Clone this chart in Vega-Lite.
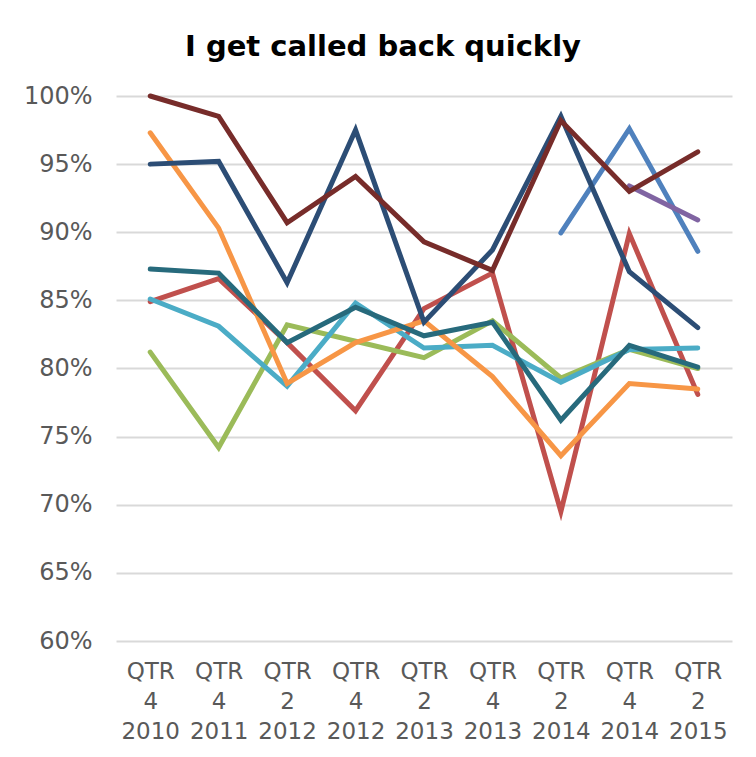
{
  "$schema": "https://vega.github.io/schema/vega-lite/v6.json",
  "width": 616,
  "height": 545,
  "autosize": {"type": "none"},
  "padding": {"left": 116, "top": 96, "right": 24, "bottom": 116},
  "background": "white",
  "title": {
    "text": "I get called back quickly",
    "font": "DejaVu Sans",
    "fontWeight": "bold",
    "fontSize": 29,
    "color": "#000000",
    "anchor": "middle",
    "dx": -41,
    "offset": 22
  },
  "config": {
    "view": {"stroke": null},
    "font": "DejaVu Sans"
  },
  "data": {
    "values": [
      {"q": "QTR 4 2010", "s": "s2", "v": 0.849},
      {"q": "QTR 4 2011", "s": "s2", "v": 0.866},
      {"q": "QTR 2 2012", "s": "s2", "v": 0.819},
      {"q": "QTR 4 2012", "s": "s2", "v": 0.769},
      {"q": "QTR 2 2013", "s": "s2", "v": 0.844},
      {"q": "QTR 4 2013", "s": "s2", "v": 0.870},
      {"q": "QTR 2 2014", "s": "s2", "v": 0.695},
      {"q": "QTR 4 2014", "s": "s2", "v": 0.899},
      {"q": "QTR 2 2015", "s": "s2", "v": 0.781},

      {"q": "QTR 2 2014", "s": "s1", "v": 0.8996},
      {"q": "QTR 4 2014", "s": "s1", "v": 0.976},
      {"q": "QTR 2 2015", "s": "s1", "v": 0.886},

      {"q": "QTR 4 2010", "s": "s3", "v": 0.812},
      {"q": "QTR 4 2011", "s": "s3", "v": 0.742},
      {"q": "QTR 2 2012", "s": "s3", "v": 0.832},
      {"q": "QTR 4 2012", "s": "s3", "v": 0.820},
      {"q": "QTR 2 2013", "s": "s3", "v": 0.808},
      {"q": "QTR 4 2013", "s": "s3", "v": 0.835},
      {"q": "QTR 2 2014", "s": "s3", "v": 0.793},
      {"q": "QTR 4 2014", "s": "s3", "v": 0.814},
      {"q": "QTR 2 2015", "s": "s3", "v": 0.800},

      {"q": "QTR 4 2014", "s": "s4", "v": 0.934},
      {"q": "QTR 2 2015", "s": "s4", "v": 0.909},

      {"q": "QTR 4 2010", "s": "s5", "v": 0.851},
      {"q": "QTR 4 2011", "s": "s5", "v": 0.831},
      {"q": "QTR 2 2012", "s": "s5", "v": 0.787},
      {"q": "QTR 4 2012", "s": "s5", "v": 0.848},
      {"q": "QTR 2 2013", "s": "s5", "v": 0.815},
      {"q": "QTR 4 2013", "s": "s5", "v": 0.817},
      {"q": "QTR 2 2014", "s": "s5", "v": 0.790},
      {"q": "QTR 4 2014", "s": "s5", "v": 0.814},
      {"q": "QTR 2 2015", "s": "s5", "v": 0.815},

      {"q": "QTR 4 2010", "s": "s6", "v": 0.973},
      {"q": "QTR 4 2011", "s": "s6", "v": 0.903},
      {"q": "QTR 2 2012", "s": "s6", "v": 0.789},
      {"q": "QTR 4 2012", "s": "s6", "v": 0.819},
      {"q": "QTR 2 2013", "s": "s6", "v": 0.835},
      {"q": "QTR 4 2013", "s": "s6", "v": 0.794},
      {"q": "QTR 2 2014", "s": "s6", "v": 0.736},
      {"q": "QTR 4 2014", "s": "s6", "v": 0.789},
      {"q": "QTR 2 2015", "s": "s6", "v": 0.785},

      {"q": "QTR 4 2010", "s": "s7", "v": 0.950},
      {"q": "QTR 4 2011", "s": "s7", "v": 0.952},
      {"q": "QTR 2 2012", "s": "s7", "v": 0.863},
      {"q": "QTR 4 2012", "s": "s7", "v": 0.975},
      {"q": "QTR 2 2013", "s": "s7", "v": 0.834},
      {"q": "QTR 4 2013", "s": "s7", "v": 0.887},
      {"q": "QTR 2 2014", "s": "s7", "v": 0.985},
      {"q": "QTR 4 2014", "s": "s7", "v": 0.871},
      {"q": "QTR 2 2015", "s": "s7", "v": 0.830},

      {"q": "QTR 4 2010", "s": "s8", "v": 1.000},
      {"q": "QTR 4 2011", "s": "s8", "v": 0.985},
      {"q": "QTR 2 2012", "s": "s8", "v": 0.907},
      {"q": "QTR 4 2012", "s": "s8", "v": 0.941},
      {"q": "QTR 2 2013", "s": "s8", "v": 0.893},
      {"q": "QTR 4 2013", "s": "s8", "v": 0.872},
      {"q": "QTR 2 2014", "s": "s8", "v": 0.982},
      {"q": "QTR 4 2014", "s": "s8", "v": 0.930},
      {"q": "QTR 2 2015", "s": "s8", "v": 0.959},

      {"q": "QTR 4 2010", "s": "s9", "v": 0.873},
      {"q": "QTR 4 2011", "s": "s9", "v": 0.870},
      {"q": "QTR 2 2012", "s": "s9", "v": 0.819},
      {"q": "QTR 4 2012", "s": "s9", "v": 0.845},
      {"q": "QTR 2 2013", "s": "s9", "v": 0.824},
      {"q": "QTR 4 2013", "s": "s9", "v": 0.834},
      {"q": "QTR 2 2014", "s": "s9", "v": 0.762},
      {"q": "QTR 4 2014", "s": "s9", "v": 0.817},
      {"q": "QTR 2 2015", "s": "s9", "v": 0.801}
    ]
  },
  "mark": {"type": "line", "strokeWidth": 5, "strokeCap": "round"},
  "encoding": {
    "x": {
      "field": "q",
      "type": "nominal",
      "title": null,
      "scale": {
        "type": "point",
        "padding": 0.5,
        "domain": ["QTR 4 2010", "QTR 4 2011", "QTR 2 2012", "QTR 4 2012", "QTR 2 2013", "QTR 4 2013", "QTR 2 2014", "QTR 4 2014", "QTR 2 2015"]
      },
      "axis": {
        "labelExpr": "split(datum.label, ' ')",
        "labelAngle": 0,
        "labelFont": "DejaVu Sans",
        "labelFontSize": 23,
        "labelColor": "#595959",
        "labelLineHeight": 30,
        "labelPadding": 19,
        "labelOverlap": false,
        "domain": false,
        "ticks": false,
        "grid": false
      }
    },
    "y": {
      "field": "v",
      "type": "quantitative",
      "title": null,
      "scale": {"domain": [0.6, 1.0], "nice": false, "zero": false},
      "axis": {
        "values": [0.6, 0.65, 0.7, 0.75, 0.8, 0.85, 0.9, 0.95, 1.0],
        "format": ".0%",
        "labelFont": "DejaVu Sans",
        "labelFontSize": 24,
        "labelColor": "#595959",
        "labelPadding": 24,
        "domain": false,
        "ticks": false,
        "gridColor": "#d9d9d9",
        "gridWidth": 2
      }
    },
    "color": {
      "field": "s",
      "type": "nominal",
      "legend": null,
      "scale": {
        "domain": ["s1", "s2", "s3", "s4", "s5", "s6", "s7", "s8", "s9"],
        "range": ["#4F81BD", "#C0504D", "#9BBB59", "#8064A2", "#4BACC6", "#F79646", "#2C4D75", "#772C2A", "#276A7C"]
      }
    },
    "order": {"field": "s"}
  }
}
